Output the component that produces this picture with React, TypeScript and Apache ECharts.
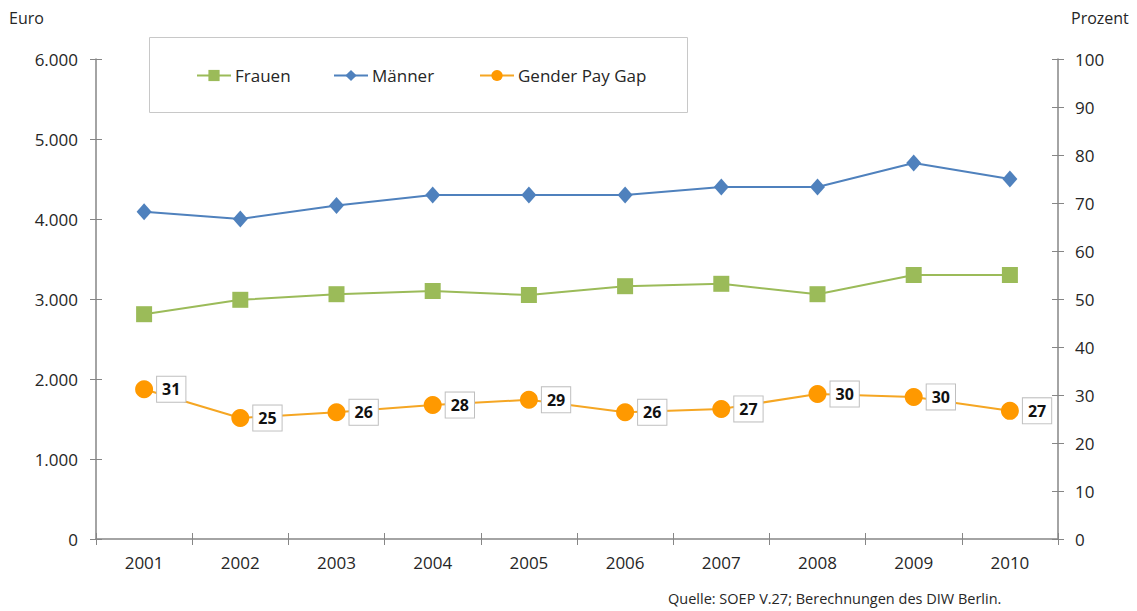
import React, { useEffect, useRef } from "react";
import * as echarts from "echarts";

const years = ["2001", "2002", "2003", "2004", "2005", "2006", "2007", "2008", "2009", "2010"];
const frauen = [2810, 2990, 3060, 3100, 3050, 3160, 3190, 3060, 3300, 3300];
const maenner = [4090, 4000, 4170, 4300, 4300, 4300, 4400, 4400, 4700, 4500];
const gap = [31.2, 25.2, 26.4, 27.9, 29.0, 26.4, 27.1, 30.2, 29.6, 26.7];
const seriesNames = ["Frauen", "Männer", "Gender Pay Gap"];
const leftAxisTitle = "Euro";
const rightAxisTitle = "Prozent";
const sourceText = "Quelle: SOEP V.27; Berechnungen des DIW Berlin.";

const FONT = "'Open Sans', sans-serif";
const TXT = "#262626";
const AX = "#868686";

export default function App() {
  const ref = useRef<HTMLDivElement>(null);
  useEffect(() => {
    if (!ref.current) return;
    const chart = echarts.init(ref.current, null, { renderer: "svg" });
    const fmtEuro = (v: number) =>
      v === 0 ? "0" : String(v).replace(/\B(?=(\d{3})+(?!\d))/g, ".");
    const legendBase = {
      top: 67,
      padding: 0,
      itemWidth: 34,
      itemHeight: 14,
      itemGap: 4,
      z: 10,
      textStyle: { fontFamily: FONT, fontSize: 17, color: TXT, padding: [0, 0, 0, -1] },
    };
    chart.setOption({
      animation: false,
      textStyle: { fontFamily: FONT },
      grid: { left: 96, right: 79, top: 59, height: 480 },
      legend: [
        { ...legendBase, left: 196, data: [seriesNames[0]] },
        { ...legendBase, left: 333, data: [seriesNames[1]] },
        { ...legendBase, left: 479, data: [seriesNames[2]] },
      ],
      graphic: [
        {
          type: "rect",
          z: 0,
          shape: { x: 149.5, y: 37.5, width: 538, height: 75 },
          style: { fill: "#fff", stroke: "#c8c8c8", lineWidth: 1 },
        },
        {
          type: "text",
          left: 9,
          top: 10,
          style: { text: leftAxisTitle, fontFamily: FONT, fontSize: 16, fill: TXT },
        },
        {
          type: "text",
          left: 1071,
          top: 10,
          style: { text: rightAxisTitle, fontFamily: FONT, fontSize: 16, fill: TXT },
        },
        {
          type: "text",
          left: 668,
          top: 591,
          style: { text: sourceText, fontFamily: FONT, fontSize: 14.5, fill: TXT },
        },
      ],
      xAxis: [
        {
          type: "category",
          data: years,
          boundaryGap: true,
          axisLine: { lineStyle: { color: AX, width: 1.5 } },
          axisTick: { show: true, length: 6, lineStyle: { color: AX } },
          axisLabel: { margin: 15, fontSize: 17, color: TXT, fontFamily: FONT },
          splitLine: { show: false },
        },
        {
          type: "category",
          data: years,
          position: "bottom",
          boundaryGap: true,
          axisLine: { show: false },
          axisTick: { show: true, inside: true, length: 6, lineStyle: { color: AX } },
          axisLabel: { show: false },
          splitLine: { show: false },
        },
      ],
      yAxis: [
        {
          type: "value",
          position: "left",
          min: 0,
          max: 6000,
          interval: 1000,
          axisLine: { show: true, lineStyle: { color: AX, width: 1.5 } },
          axisTick: { show: true, length: 6, lineStyle: { color: AX } },
          axisLabel: { margin: 18, fontSize: 17, color: TXT, fontFamily: FONT, formatter: fmtEuro },
          splitLine: { show: false },
        },
        {
          type: "value",
          position: "right",
          min: 0,
          max: 100,
          interval: 10,
          axisLine: { show: true, lineStyle: { color: AX, width: 1.5 } },
          axisTick: { show: true, length: 6, lineStyle: { color: AX } },
          axisLabel: { margin: 17, fontSize: 17, color: TXT, fontFamily: FONT },
          splitLine: { show: false },
        },
        {
          type: "value",
          position: "left",
          min: 0,
          max: 6000,
          interval: 1000,
          axisLine: { show: false },
          axisTick: { show: true, inside: true, length: 6, lineStyle: { color: AX } },
          axisLabel: { show: false },
          splitLine: { show: false },
        },
        {
          type: "value",
          position: "right",
          min: 0,
          max: 100,
          interval: 10,
          axisLine: { show: false },
          axisTick: { show: true, inside: true, length: 6, lineStyle: { color: AX } },
          axisLabel: { show: false },
          splitLine: { show: false },
        },
      ],
      series: [
        {
          name: seriesNames[0],
          type: "line",
          data: frauen,
          yAxisIndex: 0,
          symbol: "rect",
          symbolSize: 16,
          itemStyle: { color: "#9bbb59" },
          lineStyle: { color: "#9bbb59", width: 2 },
        },
        {
          name: seriesNames[1],
          type: "line",
          data: maenner,
          yAxisIndex: 0,
          symbol: "diamond",
          symbolSize: [15, 17],
          itemStyle: { color: "#4f81bd" },
          lineStyle: { color: "#4f81bd", width: 2 },
        },
        {
          name: seriesNames[2],
          type: "line",
          data: gap,
          yAxisIndex: 1,
          symbol: "circle",
          symbolSize: 18,
          itemStyle: { color: "#ff9900" },
          lineStyle: { color: "#f5a623", width: 2 },
          label: {
            show: true,
            position: "right",
            distance: 4,
            formatter: (p: any) => String(Math.round(p.value)),
            backgroundColor: "#fff",
            borderColor: "#bfbfbf",
            borderWidth: 1,
            padding: [5, 5, 4, 5],
            fontFamily: FONT,
            fontWeight: "bold",
            fontSize: 16,
            color: "#111",
          },
        },
      ],
    });
    return () => chart.dispose();
  }, []);
  return (
    <div
      ref={ref}
      style={{ position: "fixed", left: 0, top: 0, width: 1137, height: 611, background: "#fff" }}
    />
  );
}
